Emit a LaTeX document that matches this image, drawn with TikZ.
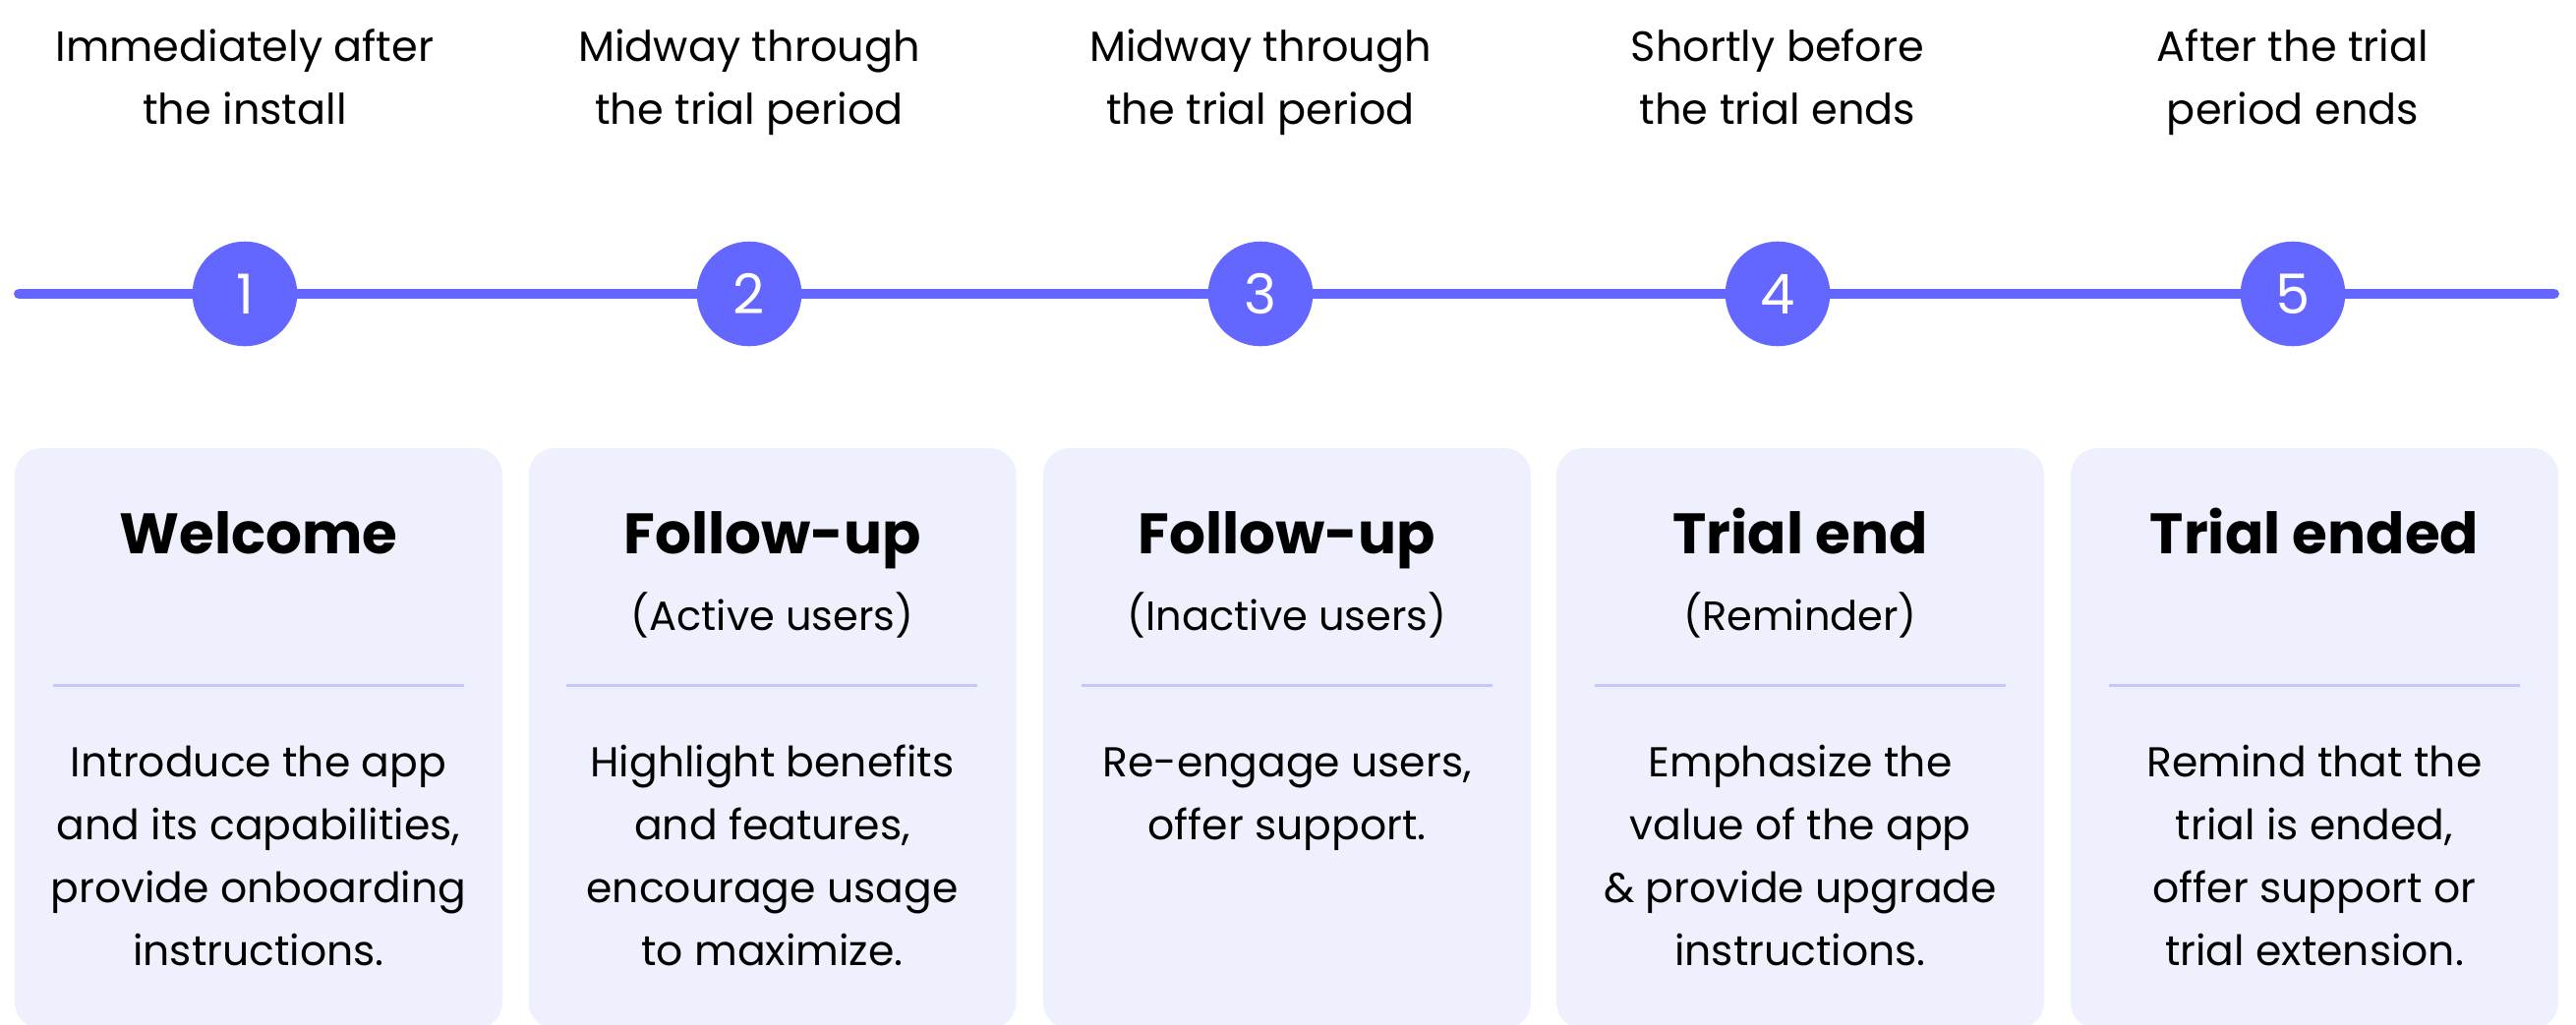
\documentclass[tikz,border=0pt]{standalone}
\usepackage{fontspec}
\setmainfont{Poppins}
\definecolor{accent}{HTML}{6366FF}
\definecolor{cardbg}{HTML}{EFF0FE}
\definecolor{rulecol}{HTML}{C3C6FF}
\tikzset{
  timeline/.style={draw=accent, line width=10.7pt, line cap=round},
  stepdot/.style={circle, fill=accent, draw=none, minimum size=106.6pt, inner sep=0pt,
    text=white, font=\fontsize{56}{56}\selectfont},
  when/.style={anchor=north, align=center, inner sep=0pt, font=\fontsize{43}{64}\selectfont},
  card/.style={rectangle, rounded corners=27pt, fill=cardbg, draw=none,
    minimum width=496pt, minimum height=591pt, inner sep=0pt},
  cardhead/.style={anchor=base, inner sep=0pt, font=\bfseries\fontsize{58}{58}\selectfont},
  cardsub/.style={anchor=base, inner sep=0pt, font=\fontsize{41.5}{41.5}\selectfont},
  cardbody/.style={anchor=north, align=center, inner sep=0pt, font=\fontsize{42.5}{64}\selectfont},
  divider/.style={draw=rulecol, line width=3pt}
}
\begin{document}
\begin{tikzpicture}[x=1pt, y=-1pt]
\useasboundingbox (0,0) rectangle (2620,1043);
\clip (0,0) rectangle (2620,1043);

% timing labels above the steps
\node[when] (w1) at (249,17.2)  {\strut Immediately after\\the install};
\node[when] (w2) at (762,17.2)  {\strut Midway through\\the trial period};
\node[when] (w3) at (1282,17.2) {\strut Midway through\\the trial period};
\node[when] (w4) at (1808,17.2) {\strut Shortly before\\the trial ends};
\node[when] (w5) at (2332,17.2) {\strut After the trial\\period ends};

% timeline with numbered steps
\coordinate (tlL) at (19.4,299);
\coordinate (tlR) at (2597.6,299);
\node[stepdot] (s1) at (249,299)  {1};
\node[stepdot] (s2) at (762,299)  {2};
\node[stepdot] (s3) at (1282,299) {3};
\node[stepdot] (s4) at (1808,299) {4};
\node[stepdot] (s5) at (2332,299) {5};
\draw[timeline] (tlL) -- (s1);
\draw[timeline] (s1) -- (s2);
\draw[timeline] (s2) -- (s3);
\draw[timeline] (s3) -- (s4);
\draw[timeline] (s4) -- (s5);
\draw[timeline] (s5) -- (tlR);

% cards
\node[card] (c1) at (263,751.5)  {};
\node[card] (c2) at (785.5,751.5) {};
\node[card] (c3) at (1309,751.5) {};
\node[card] (c4) at (1831,751.5) {};
\node[card] (c5) at (2354,751.5) {};

\foreach \c in {c1,c2,c3,c4,c5}{
  \draw[divider] (\c.north west) ++(39,242) -- ++(418,0);
}

% card headings
\node[cardhead] (h1) at (263,563)   {Welcome};
\node[cardhead] (h2) at (785.5,563) {Follow-up};
\node[cardsub]  (u2) at (785.5,641) {(Active users)};
\node[cardhead] (h3) at (1309,563)  {Follow-up};
\node[cardsub]  (u3) at (1309,641)  {(Inactive users)};
\node[cardhead] (h4) at (1831,563)  {Trial end};
\node[cardsub]  (u4) at (1831,641)  {(Reminder)};
\node[cardhead] (h5) at (2354,563)  {Trial ended};

% card descriptions
\node[cardbody] (b1) at (263,745.2)   {\strut Introduce the app\\and its capabilities,\\provide onboarding\\instructions.};
\node[cardbody] (b2) at (785.5,745.2) {\strut Highlight benefits\\and features,\\encourage usage\\to maximize.};
\node[cardbody] (b3) at (1309,745.2)  {\strut Re-engage users,\\offer support.};
\node[cardbody] (b4) at (1831,745.2)  {\strut Emphasize the\\value of the app\\\& provide upgrade\\instructions.};
\node[cardbody] (b5) at (2354,745.2)  {\strut Remind that the\\trial is ended,\\offer support or\\trial extension.};
\end{tikzpicture}
\end{document}
